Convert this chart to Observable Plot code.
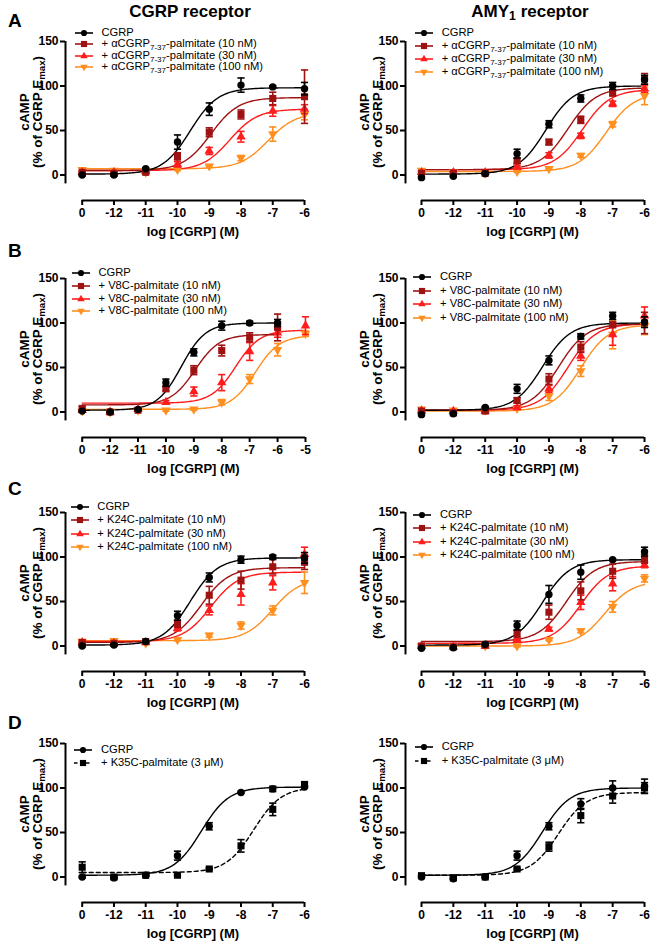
<!DOCTYPE html>
<html><head><meta charset="utf-8">
<script src="https://cdn.jsdelivr.net/npm/d3@7"></script>
<script src="https://cdn.jsdelivr.net/npm/@observablehq/plot@0.6"></script>
<style>
body{margin:0;background:#fff;font-family:"Liberation Sans",Arial,sans-serif;color:#000}
#root{position:relative;width:653px;height:942px;overflow:hidden;background:#fff}
.t{position:absolute;white-space:nowrap;line-height:1}
sub{font-size:72%;vertical-align:-0.28em;line-height:0}
.ttl{font-weight:bold;font-size:17px;transform:translate(-50%,-50%)}
.let{font-weight:bold;font-size:19px;transform:translateY(-50%)}
.xl{font-weight:bold;font-size:13px;transform:translate(-50%,-50%)}
.yl{font-weight:bold;font-size:13.5px;line-height:13px;text-align:center;transform:translate(-50%,-50%) rotate(-90deg)}
.lg{font-size:11.2px;transform:translateY(-50%)}
</style>
</head><body><div id="root"></div><script>
// ---------- x positions (log [CGRP] M); -13 is the vehicle point labelled "0" ----------
const xStd = [-13, -12, -11, -10, -9, -8, -7, -6];
const xExt = [-13, -12, -11, -10, -9, -8, -7, -6, -5];
const yTicks = [0, 50, 100, 150];
const vehicleLabel = "0";

const colTitles = ["CGRP receptor", "AMY<sub>1</sub> receptor"];
const rowLetters = ["A", "B", "C", "D"];
const xTitle = "log [CGRP] (M)";
const yTitle = "cAMP<br>(% of CGRP E<sub>max</sub>)";

const seriesColors = ["#000000", "#9e1212", "#ff1c1c", "#ff8f1f"];

const legendA = ["CGRP", "+ αCGRP<sub>7-37</sub>-palmitate (10 nM)", "+ αCGRP<sub>7-37</sub>-palmitate (30 nM)", "+ αCGRP<sub>7-37</sub>-palmitate (100 nM)"];
const legendB = ["CGRP", "+ V8C-palmitate (10 nM)", "+ V8C-palmitate (30 nM)", "+ V8C-palmitate (100 nM)"];
const legendC = ["CGRP", "+ K24C-palmitate (10 nM)", "+ K24C-palmitate (30 nM)", "+ K24C-palmitate (100 nM)"];
const legendD = ["CGRP", "+ K35C-palmitate (3 μM)"];

// ---------- Panel A, CGRP receptor ----------
const A1_cgrp = [0, 0, 7, 37, 74, 101, 99, 97];      const A1_cgrp_sem = [1, 1, 1, 8, 7, 8, 1, 7];
const A1_10 = [3, 2, 3, 21, 48, 68, 86, 88];         const A1_10_sem = [1, 1, 1, 4, 5, 5, 7, 30];
const A1_30 = [3, 3, 4, 12, 27, 43, 72, 74];         const A1_30_sem = [1, 1, 1, 3, 4, 6, 6, 5];
const A1_100 = [6, 5, 3, 6, 10, 19, 46, 68];         const A1_100_sem = [2, 1, 1, 1, 1, 3, 8, 6];
const A1_bottom = [1, 5, 5, 7]; const A1_top = [98, 87, 74, 70]; const A1_logEC50 = [-9.6, -8.95, -8.35, -7.15];
// ---------- Panel A, AMY1 receptor ----------
const A2_cgrp = [-3, -1.5, 1.5, 24, 57, 86, 100, 107]; const A2_cgrp_sem = [1, 1, 1, 5, 4, 4, 4, 5];
const A2_10 = [2, 2, 2, 16, 37, 62, 92, 108];        const A2_10_sem = [1, 1, 1, 3, 3, 4, 3, 6];
const A2_30 = [3, 3, 3, 9, 22, 44, 80, 97];          const A2_30_sem = [1, 1, 1, 2, 3, 3, 3, 4];
const A2_100 = [5, 3, 2, 4, 7, 22, 57, 89];          const A2_100_sem = [1, 1, 1, 1, 1, 2, 3, 10];
const A2_bottom = [1, 6, 6, 4]; const A2_top = [100, 98, 96, 92]; const A2_logEC50 = [-9.1, -8.4, -7.95, -7.2];
// ---------- Panel B, CGRP receptor ----------
const B1_cgrp = [1, 0, 3, 33, 67, 97, 100, 100];     const B1_cgrp_sem = [1, 1, 1, 4, 4, 5, 2, 4];
const B1_10 = [4, 0, 2, 26, 47, 69, 84, 95];         const B1_10_sem = [2, 1, 1, 2, 5, 6, 5, 15];
const B1_30 = [2, 0, 3, 11, 23, 33, 68, 89, 97];     const B1_30_sem = [1, 1, 1, 2, 5, 9, 10, 5, 10];
const B1_100 = [1, 0, 2, 2, 3, 11, 37, 70, 88];      const B1_100_sem = [1, 1, 1, 1, 1, 3, 5, 7, 3];
const B1_bottom = [2, 8, 10, 3]; const B1_top = [100, 87, 92, 86]; const B1_logEC50 = [-9.45, -8.95, -7.5, -6.8];
// ---------- Panel B, AMY1 receptor ----------
const B2_cgrp = [-3, -2, 5, 26, 58, 85, 108, 101];   const B2_cgrp_sem = [1, 1, 1, 5, 5, 3, 4, 6];
const B2_10 = [1, -1, 1, 13, 37, 73, 98, 100];       const B2_10_sem = [1, 1, 1, 3, 6, 6, 3, 12];
const B2_30 = [1.5, 1, 1, 5, 26, 63, 87, 108];       const B2_30_sem = [1, 1, 1, 2, 4, 5, 12, 10];
const B2_100 = [3, 2, 2, 4, 18, 46, 87, 97];         const B2_100_sem = [1, 1, 1, 1, 5, 6, 16, 10];
const B2_bottom = [2, 2, 2, 1]; const B2_top = [100, 99, 99, 98]; const B2_logEC50 = [-9.2, -8.7, -8.4, -8.0];
// ---------- Panel C, CGRP receptor ----------
const C1_cgrp = [0, 1, 5, 34, 77, 97, 100, 99];      const C1_cgrp_sem = [1, 1, 1, 5, 5, 4, 2, 6];
const C1_10 = [4, 3, 5, 25, 57, 74, 89, 94];         const C1_10_sem = [1, 1, 1, 4, 10, 10, 8, 8];
const C1_30 = [4, 3, 4, 20, 40, 58, 71, 103];        const C1_30_sem = [1, 1, 1, 3, 5, 12, 8, 8];
const C1_100 = [5, 6, 3, 7, 12, 23, 40, 71];         const C1_100_sem = [1, 1, 1, 1, 2, 4, 5, 12];
const C1_bottom = [1, 4, 5, 6]; const C1_top = [99, 88, 83, 76]; const C1_logEC50 = [-9.6, -9.25, -8.95, -7.0];
// ---------- Panel C, AMY1 receptor ----------
const C2_cgrp = [-2.5, -2, 2, 23, 58, 83, 97, 106];  const C2_cgrp_sem = [1, 1, 1, 5, 10, 8, 1, 5];
const C2_10 = [0, -1, 1, 14, 38, 62, 84, 98];        const C2_10_sem = [1, 1, 1, 4, 8, 10, 8, 5];
const C2_30 = [0, -1, 0, 7, 19, 49, 70, 91];         const C2_30_sem = [1, 1, 1, 1, 2, 8, 8, 3];
const C2_100 = [0, 0, 0, 0, 7, 17, 44, 76];          const C2_100_sem = [1, 1, 1, 1, 1, 2, 6, 4];
const C2_bottom = [1, 5, 3, 0]; const C2_top = [97, 95, 90, 73]; const C2_logEC50 = [-9.2, -8.45, -8.0, -7.25];
// ---------- Panel D, CGRP receptor ----------
const D1_cgrp = [0, -1, 2, 24, 57, 95, 99, 101];     const D1_cgrp_sem = [1, 1, 1, 5, 4, 1, 3, 1];
const D1_k35c = [11, 0, 2, 2, 9, 35, 76, 104];       const D1_k35c_sem = [6, 1, 1, 1, 1, 7, 7, 2];
const D1_bottom = [2, 5]; const D1_top = [101, 101]; const D1_logEC50 = [-9.25, -7.6];
// ---------- Panel D, AMY1 receptor ----------
const D2_cgrp = [0, -2, 0, 24, 57, 82, 100, 102];    const D2_cgrp_sem = [1, 1, 1, 5, 4, 6, 8, 8];
const D2_k35c = [1.5, -1, 0, 9, 34, 69, 91, 100];    const D2_k35c_sem = [1, 1, 1, 1, 5, 8, 8, 6];
const D2_bottom = [2, 2]; const D2_top = [100, 95]; const D2_logEC50 = [-9.2, -8.7];

// ---------- layout ----------
const root = document.getElementById("root");
const COLS = [
  {svgLeft: 0, svgW: 313, yAxisX: 65, x13: 81.7, titleX: 190, yLabelX: 31},
  {svgLeft: 340, svgW: 313, yAxisX: 405, x13: 421, titleX: 530, yLabelX: 371}
];
const ROWS_Y150 = [41, 277.5, 511.5, 742.5];
const LETTER_Y = [20, 250, 488, 722];
const MT = 12, FH = 159, H = 200, KY = 0.89;

const sym4 = [
  {symbol: "circle", rotate: 0, r: 3.7},
  {symbol: "square", rotate: 0, r: 4.0},
  {symbol: "triangle", rotate: 0, r: 3.5},
  {symbol: "triangle", rotate: 180, r: 3.5}
];
const capSymbol = {draw(ctx, size) { const r = Math.sqrt(size / Math.PI); ctx.moveTo(-r, 0); ctx.lineTo(r, 0); }};

function series(xs, y, e, i, bottom, top, ec, extra) {
  return Object.assign({x: xs, y, e, bottom: bottom[i], top: top[i], ec50: ec[i], color: seriesColors[i], ...sym4[i], dash: null}, extra || {});
}
function fourSeries(xsArr, ys, es, b, t, ec) {
  return ys.map((y, i) => series(xsArr[i], y, es[i], i, b, t, ec));
}

const panels = [
  {row: 0, col: 0, xt: xStd, k: 31.76, legend: legendA, lg: {textX: 101.5, y0: 33.3, gap: 11.1},
   series: fourSeries([xStd, xStd, xStd, xStd], [A1_cgrp, A1_10, A1_30, A1_100], [A1_cgrp_sem, A1_10_sem, A1_30_sem, A1_100_sem], A1_bottom, A1_top, A1_logEC50)},
  {row: 0, col: 1, xt: xStd, k: 31.86, legend: legendA, lg: {textX: 441.7, y0: 33.3, gap: 12.8},
   series: fourSeries([xStd, xStd, xStd, xStd], [A2_cgrp, A2_10, A2_30, A2_100], [A2_cgrp_sem, A2_10_sem, A2_30_sem, A2_100_sem], A2_bottom, A2_top, A2_logEC50)},
  {row: 1, col: 0, xt: xExt, k: 27.91, legend: legendB, lg: {textX: 98.5, y0: 273.3, gap: 12.6},
   series: fourSeries([xStd, xStd, xExt, xExt], [B1_cgrp, B1_10, B1_30, B1_100], [B1_cgrp_sem, B1_10_sem, B1_30_sem, B1_100_sem], B1_bottom, B1_top, B1_logEC50)},
  {row: 1, col: 1, xt: xStd, k: 31.86, legend: legendB, lg: {textX: 440, y0: 277.3, gap: 13.5},
   series: fourSeries([xStd, xStd, xStd, xStd], [B2_cgrp, B2_10, B2_30, B2_100], [B2_cgrp_sem, B2_10_sem, B2_30_sem, B2_100_sem], B2_bottom, B2_top, B2_logEC50)},
  {row: 2, col: 0, xt: xStd, k: 31.76, legend: legendC, lg: {textX: 97.3, y0: 507.3, gap: 13.1},
   series: fourSeries([xStd, xStd, xStd, xStd], [C1_cgrp, C1_10, C1_30, C1_100], [C1_cgrp_sem, C1_10_sem, C1_30_sem, C1_100_sem], C1_bottom, C1_top, C1_logEC50)},
  {row: 2, col: 1, xt: xStd, k: 31.86, legend: legendC, lg: {textX: 440, y0: 515, gap: 13.3},
   series: fourSeries([xStd, xStd, xStd, xStd], [C2_cgrp, C2_10, C2_30, C2_100], [C2_cgrp_sem, C2_10_sem, C2_30_sem, C2_100_sem], C2_bottom, C2_top, C2_logEC50)},
  {row: 3, col: 0, xt: xStd, k: 31.76, legend: legendD, lg: {textX: 101, y0: 750, gap: 12.7},
   series: [series(xStd, D1_cgrp, D1_cgrp_sem, 0, D1_bottom, D1_top, D1_logEC50),
            series(xStd, D1_k35c, D1_k35c_sem, 1, D1_bottom, D1_top, D1_logEC50, {color: "#000000", dash: "4,3"})]},
  {row: 3, col: 1, xt: xStd, k: 31.86, legend: legendD, lg: {textX: 441.7, y0: 747.3, gap: 13.7},
   series: [series(xStd, D2_cgrp, D2_cgrp_sem, 0, D2_bottom, D2_top, D2_logEC50),
            series(xStd, D2_k35c, D2_k35c_sem, 1, D2_bottom, D2_top, D2_logEC50, {color: "#000000", dash: "4,3"})]}
];

function addText(html, cls, x, y) {
  const d = document.createElement("div");
  d.className = "t " + cls; d.innerHTML = html;
  d.style.left = x + "px"; d.style.top = y + "px";
  root.appendChild(d);
  return d;
}

function makePanel(p) {
  const col = COLS[p.col];
  const y150 = ROWS_Y150[p.row];
  const k = p.k;
  const ML = col.yAxisX - col.svgLeft;
  const xL = -13 - (col.x13 - col.yAxisX) / k;
  const xR = xL + (col.svgW - ML) / k;
  const yB = 150 - FH / KY;
  const xLast = p.xt[p.xt.length - 1];
  const marks = [
    Plot.ruleX([xL], {y1: -10, y2: 150, stroke: "#000", strokeWidth: 2}),
    Plot.ruleY([yB], {x1: -13, x2: xLast, stroke: "#000", strokeWidth: 2}),
    Plot.axisY({ticks: yTicks, tickSize: 5, tickPadding: 2, strokeWidth: 2, label: null, fontSize: 12, fontWeight: "bold", tickFormat: d => String(d)}),
    Plot.axisX({ticks: p.xt, tickSize: 5, tickPadding: 3, strokeWidth: 2, label: null, fontSize: 12, fontWeight: "bold",
                tickFormat: d => d === -13 ? vehicleLabel : String(d)})
  ];
  const ordered = [...p.series].reverse();
  for (const s of ordered) {
    const x0 = s.x[0], x1 = s.x[s.x.length - 1];
    const curve = d3.range(x0, x1 + 1e-9, 0.05).map(x => ({x, y: s.bottom + (s.top - s.bottom) / (1 + Math.pow(10, s.ec50 - x))}));
    marks.push(Plot.line(curve, {x: "x", y: "y", stroke: s.color, strokeWidth: 1.4, strokeDasharray: s.dash || null}));
  }
  for (const s of ordered) {
    const pts = s.x.map((x, i) => ({x, y: s.y[i], e: s.e[i]}));
    marks.push(Plot.ruleX(pts, {x: "x", y1: d => d.y - d.e, y2: d => d.y + d.e, stroke: s.color, strokeWidth: 1.6}));
    marks.push(Plot.dot(pts, {x: "x", y: d => d.y + d.e, symbol: capSymbol, r: 3.6, stroke: s.color, strokeWidth: 1.6, fill: "none"}));
    marks.push(Plot.dot(pts, {x: "x", y: d => d.y - d.e, symbol: capSymbol, r: 3.6, stroke: s.color, strokeWidth: 1.6, fill: "none"}));
    marks.push(Plot.dot(pts, {x: "x", y: "y", symbol: s.symbol, r: s.r, rotate: s.rotate, fill: s.color, stroke: "none"}));
  }
  const svg = Plot.plot({
    width: col.svgW, height: H,
    marginLeft: ML, marginRight: 0, marginTop: MT, marginBottom: H - MT - FH,
    x: {domain: [xL, xR]},
    y: {domain: [yB, 150]},
    style: {fontFamily: "'Liberation Sans', Arial, sans-serif", fontSize: "12px", fontWeight: "bold", background: "transparent", overflow: "visible"},
    marks
  });
  svg.style.position = "absolute";
  svg.style.left = col.svgLeft + "px";
  svg.style.top = (y150 - MT) + "px";
  root.appendChild(svg);

  // axis titles
  const tickMid = col.x13 + (xLast + 13) * k / 2;
  addText(xTitle, "xl", tickMid, y150 + 190);
  addText(yTitle, "yl", col.yLabelX, y150 + 71);

  // legend
  p.series.forEach((s, i) => {
    const cy = p.lg.y0 + i * p.lg.gap;
    const cx = p.lg.textX - 17.7;
    const g = d3.create("svg").attr("width", 22).attr("height", 12)
      .style("position", "absolute").style("left", (cx - 11) + "px").style("top", (cy - 6) + "px").style("overflow", "visible");
    g.append("line").attr("x1", 2).attr("x2", 20).attr("y1", 6).attr("y2", 6)
      .attr("stroke", s.color).attr("stroke-width", 1.6).attr("stroke-dasharray", s.dash ? "3.5,2.5" : null);
    const symType = s.symbol === "circle" ? d3.symbolCircle : s.symbol === "square" ? d3.symbolSquare : d3.symbolTriangle;
    const size = s.symbol === "circle" ? 30 : s.symbol === "square" ? 38 : 24;
    g.append("path").attr("d", d3.symbol(symType, size)())
      .attr("transform", `translate(11,6) rotate(${s.rotate})`).attr("fill", s.color);
    root.appendChild(g.node());
    addText(p.legend[i], "lg", p.lg.textX, cy);
  });
}

panels.forEach(makePanel);

// column titles and row letters
addText(colTitles[0], "ttl", COLS[0].titleX, 11);
addText(colTitles[1], "ttl", COLS[1].titleX, 11);
rowLetters.forEach((l, i) => addText(l, "let", 8, LETTER_Y[i]));
</script></body></html>
